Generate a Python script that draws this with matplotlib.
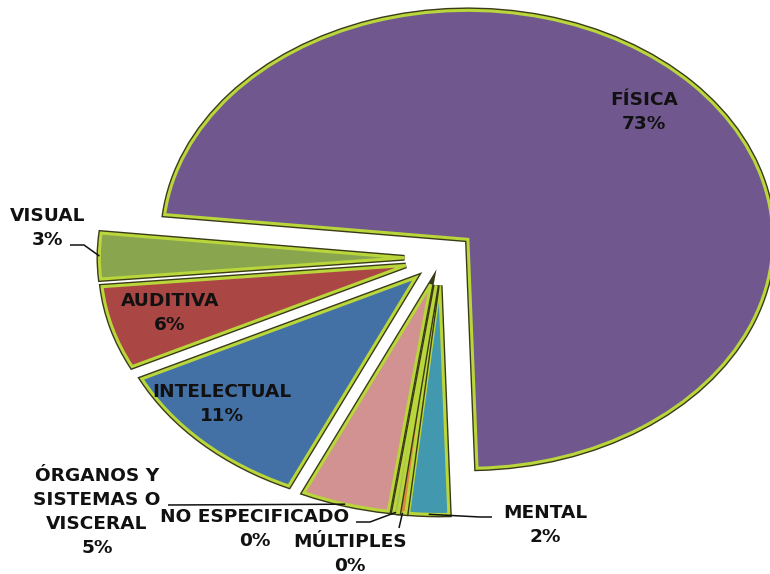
import numpy as np
import matplotlib
matplotlib.use("Agg")
import matplotlib.pyplot as plt
import matplotlib.patheffects as pe

# ---- data (clockwise drawing order) ----
categories = ["FÍSICA", "MENTAL", "MÚLTIPLES", "NO ESPECIFICADO",
              "ÓRGANOS Y\nSISTEMAS O\nVISCERAL", "INTELECTUAL", "AUDITIVA", "VISUAL"]
values = [72.8, 2.1, 0.35, 0.25, 4.6, 10.9, 5.8, 3.2]
pct_labels = ["73%", "2%", "0%", "0%", "5%", "11%", "6%", "3%"]
colors = ["#70588E", "#4198AF", "#DB843D", "#9FC052",
          "#D19291", "#4471A5", "#AA4643", "#89A54E"]

# ---- layout ----
W, H = 770, 574
CX, CY = 441, 258          # pie centre in pixels
RX, RY = 305, 229          # pixel radii of the (elliptical) pie
xmin = -CX / RX
xmax = xmin + W / RX
ymax = CY / RY
ymin = ymax - H / RY

def px(x, y):
    """pixel (from top-left) -> data coords"""
    return xmin + x / W * (xmax - xmin), ymax - y / H * (ymax - ymin)

fig = plt.figure(figsize=(W / 100, H / 100), dpi=100)
ax = fig.add_axes([0, 0, 1, 1])

wedges, _ = ax.pie(values, colors=colors, startangle=173.8, counterclock=False,
                   explode=[0.12] * len(values),
                   wedgeprops=dict(edgecolor="#B9D63A", linewidth=2.2))
for w in wedges:
    w.set_path_effects([pe.Stroke(linewidth=4.2, foreground="#3a3a18"), pe.Normal()])

ax.set_aspect("auto")
ax.set_xlim(xmin, xmax)
ax.set_ylim(ymin, ymax)
ax.axis("off")

font = dict(family="DejaVu Sans", fontweight="bold", fontsize=13.3,
            color="#111111", ha="center", va="center")
LINE_PX = 24

def outer_point(w):
    th = np.deg2rad((w.theta1 + w.theta2) / 2)
    cx, cy = w.center
    return cx + w.r * np.cos(th), cy + w.r * np.sin(th)

# label centres (pixels) for each category
label_pos = [(644, 112), (545, 525), (350, 554), (255, 529),
             (97, 512), (222, 404), (170, 313), (48, 228)]
# leader lines: (start pixel, elbow pixel) or None
leaders = [None, ((492, 517), (480, 517)), ((399, 528), (399, 528)),
           ((356, 522), (370, 522)), ((168, 505), (168, 505)),
           None, None, ((70, 245), (84, 245))]

for w, cat, pct, pos, ld in zip(wedges, categories, pct_labels, label_pos, leaders):
    lines = cat.split("\n") + [pct]
    n = len(lines)
    for i, line in enumerate(lines):
        y = pos[1] + (i - (n - 1) / 2) * LINE_PX
        ax.text(*px(pos[0], y), line, **font)
    if ld is not None:
        p0 = px(*ld[0])
        p1 = px(*ld[1])
        p2 = outer_point(w)
        ax.plot([p0[0], p1[0], p2[0]], [p0[1], p1[1], p2[1]],
                color="#111111", lw=1.1, solid_capstyle="butt")

fig.savefig("out.png", dpi=100)
